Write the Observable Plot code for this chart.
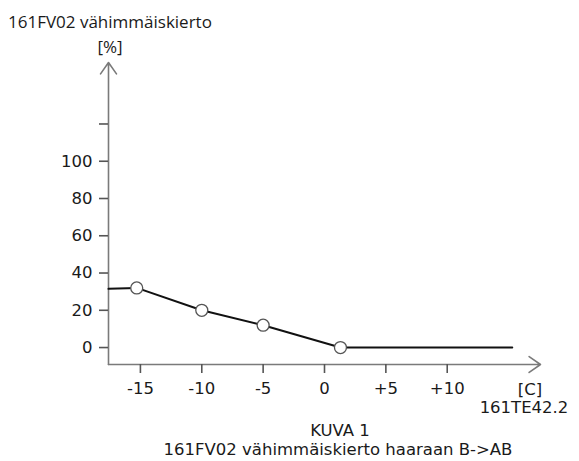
<!DOCTYPE html>
<html>
<head>
<meta charset="utf-8">
<script src="https://cdn.jsdelivr.net/npm/d3@7"></script>
<script src="https://cdn.jsdelivr.net/npm/@observablehq/plot@0.6"></script>
<style>
  html, body { margin: 0; padding: 0; background: #fff; }
  #wrap { position: relative; width: 579px; height: 461px; overflow: hidden; }
  .lbl { position: absolute; white-space: nowrap; color: #1a1a1a; line-height: 1; }
  .cal { font-family: "Open Sans", sans-serif; font-size: 17px; }
  .ver { font-family: "DejaVu Sans", sans-serif; font-size: 16.5px; }
</style>
</head>
<body>
<div id="wrap"></div>
<script>
// ---- data ----
const xTicks = [-15, -10, -5, 0, 5, 10];
const xTickLabels = ["-15", "-10", "-5", "0", "+5", "+10"];
const yTicks = [0, 20, 40, 60, 80, 100, 120];
const yTickLabels = ["0", "20", "40", "60", "80", "100", ""];
const curveX = [-17.6, -15.3, -10, -5, 1.3, 15.3];
const curveY = [31.5, 32, 20, 12, 0, 0];
const markerX = [-15.3, -10, -5, 1.3];
const markerY = [32, 20, 12, 0];
const xDomain = [-17.6, 17.6];
const yDomain = [-9.1, 153];

const curve = curveX.map((x, i) => ({x, y: curveY[i]}));
const markers = markerX.map((x, i) => ({x, y: markerY[i]}));
const axisArrows = [
  {x1: xDomain[0], y1: yDomain[0], x2: xDomain[1], y2: yDomain[0]},
  {x1: xDomain[0], y1: yDomain[0], x2: xDomain[0], y2: yDomain[1]}
];

const chart = Plot.plot({
  width: 579,
  height: 461,
  marginLeft: 108,
  marginRight: 39,
  marginTop: 62,
  marginBottom: 97,
  style: {fontFamily: "DejaVu Sans, sans-serif", fontSize: "16.5px", color: "#1a1a1a", background: "white"},
  x: {domain: xDomain},
  y: {domain: yDomain},
  marks: [
    Plot.arrow(axisArrows, {x1: "x1", y1: "y1", x2: "x2", y2: "y2", stroke: "#7a7a7a", strokeWidth: 1.6, headLength: 13, headAngle: 70}),
    Plot.axisX({ticks: xTicks, tickFormat: d => xTickLabels[xTicks.indexOf(d)], tickSize: 9, tickPadding: 9, stroke: "#555", fill: "#1a1a1a", strokeWidth: 1.6, label: null}),
    Plot.axisY({ticks: yTicks, tickFormat: d => yTickLabels[yTicks.indexOf(d)], tickSize: 9, tickPadding: 7, stroke: "#555", fill: "#1a1a1a", strokeWidth: 1.6, label: null}),
    Plot.line(curve, {x: "x", y: "y", stroke: "#111", strokeWidth: 2}),
    Plot.dot(markers, {x: "x", y: "y", r: 6, stroke: "#555", strokeWidth: 1.3, fill: "white"})
  ]
});
const wrap = document.getElementById("wrap");
wrap.appendChild(chart);

function addLabel(text, cls, left, top, center) {
  const d = document.createElement("div");
  d.className = "lbl " + cls;
  d.textContent = text;
  d.style.left = left + "px";
  d.style.top = top + "px";
  if (center) d.style.transform = "translateX(-50%)";
  wrap.appendChild(d);
}
addLabel("161FV02 vähimmäiskierto", "cal", 8, 13, false);
addLabel("[%]", "cal", 110, 38, true);
addLabel("[C]", "ver", 530, 382, true);
addLabel("161TE42.2", "ver", 524, 400, true);
addLabel("KUVA 1", "ver", 340, 423, true);
addLabel("161FV02 vähimmäiskierto haaraan B->AB", "ver", 338, 442, true);
</script>
</body>
</html>
